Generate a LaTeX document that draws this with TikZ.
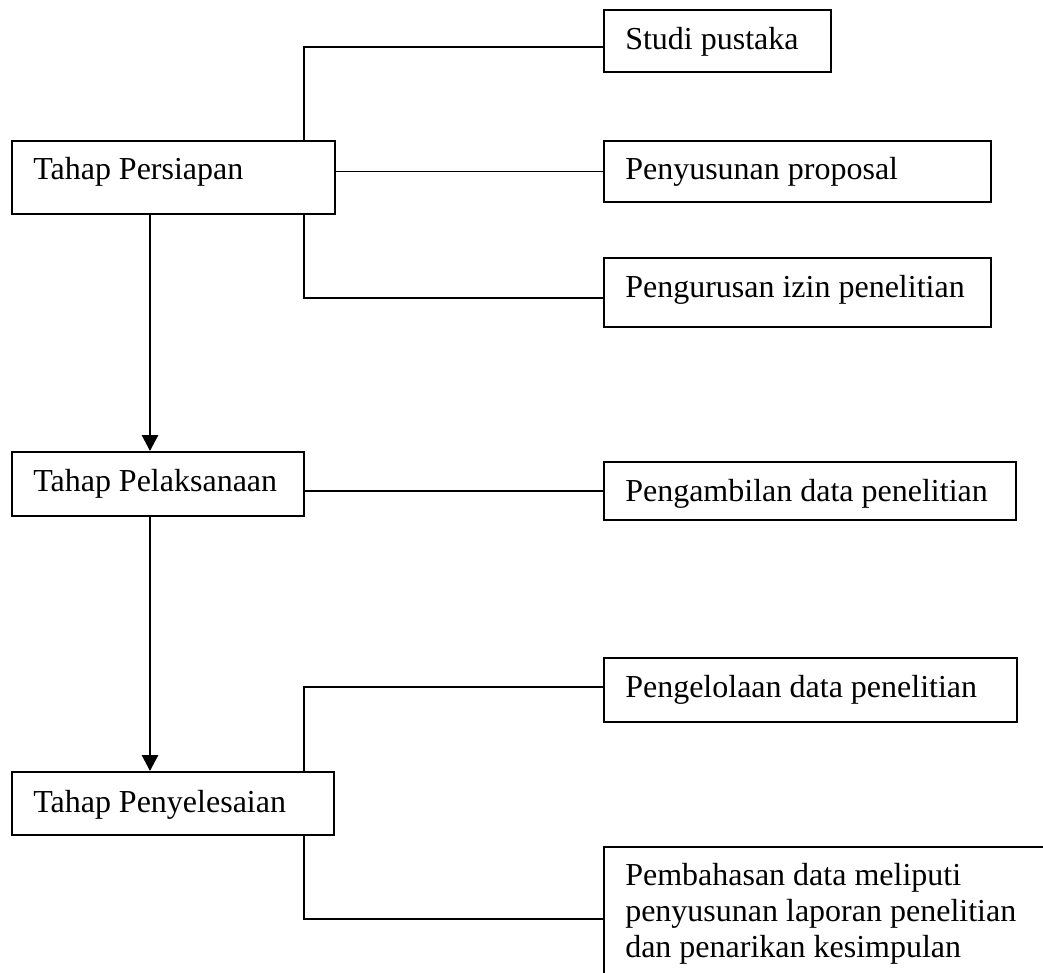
\documentclass[tikz,border=0pt]{standalone}
\usepackage{fontspec}
\setmainfont{Liberation Serif}
\usetikzlibrary{arrows.meta}
\begin{document}
\begin{tikzpicture}[x=0.75pt,y=-0.75pt,
  box/.style={draw, line width=1.4pt, rectangle, inner sep=0pt},
  lbl/.style={anchor=base west, inner sep=0pt, font=\fontsize{24}{27}\selectfont},
  conn/.style={line width=1.4pt},
  flow/.style={line width=2.1pt, -{Triangle[width=12pt,length=12pt]}}]
\useasboundingbox (0,0) rectangle (1043,973);
\clip (0,0) rectangle (1043,973);
% left column boxes
\node[box, minimum width=323*0.75pt, minimum height=73*0.75pt] (persiapan) at (173.5,177.5) {};
\node[box, minimum width=292*0.75pt, minimum height=64*0.75pt] (pelaksanaan) at (158,484) {};
\node[box, minimum width=322*0.75pt, minimum height=63*0.75pt] (penyelesaian) at (173,803.5) {};
% right column boxes
\node[box, minimum width=227*0.75pt, minimum height=62*0.75pt] (studi) at (717.5,41) {};
\node[box, minimum width=387*0.75pt, minimum height=61*0.75pt] (penyusunan) at (797.5,171.5) {};
\node[box, minimum width=387*0.75pt, minimum height=69*0.75pt] (pengurusan) at (797.5,292.5) {};
\node[box, minimum width=412*0.75pt, minimum height=58*0.75pt] (pengambilan) at (810,491) {};
\node[box, minimum width=413*0.75pt, minimum height=64*0.75pt] (pengelolaan) at (810.5,690) {};
\node[box, minimum width=460*0.75pt, minimum height=150*0.75pt] (pembahasan) at (834,922) {};
% labels
\node[lbl] (tPersiapan) at (33,180) {Tahap Persiapan};
\node[lbl] (tPelaksanaan) at (33,492) {Tahap Pelaksanaan};
\node[lbl] (tPenyelesaian) at (33,812) {Tahap Penyelesaian};
\node[lbl] (tStudi) at (625,50) {Studi pustaka};
\node[lbl] (tPenyusunan) at (625,180) {Penyusunan proposal};
\node[lbl] (tPengurusan) at (625,298) {Pengurusan izin penelitian};
\node[lbl] (tPengambilan) at (625,502) {Pengambilan data penelitian};
\node[lbl] (tPengelolaan) at (625,697) {Pengelolaan data penelitian};
\node[lbl] (tPemb1) at (625,885) {Pembahasan data meliputi};
\node[lbl] (tPemb2) at (625,921) {penyusunan laporan penelitian};
\node[lbl] (tPemb3) at (625,957) {dan penarikan kesimpulan};
% helper coordinates
\coordinate (tr) at (304,0);
\coordinate (ar) at (150,0);
% connectors
\draw[conn] (persiapan.north -| tr) |- ([yshift=-4.5pt]studi.west);
\draw[conn] (persiapan.east |- penyusunan.west) -- (penyusunan.west);
\draw[conn] (persiapan.south -| tr) |- ([yshift=-4pt]pengurusan.west);
\draw[conn] (pelaksanaan.east |- pengambilan.west) -- (pengambilan.west);
\draw[conn] (penyelesaian.north -| tr) |- ([yshift=2pt]pengelolaan.west);
\draw[conn] (penyelesaian.south -| tr) |- ([yshift=2.5pt]pembahasan.west);
% flow arrows
\draw[flow] (persiapan.south -| ar) -- (pelaksanaan.north -| ar);
\draw[flow] (pelaksanaan.south -| ar) -- (penyelesaian.north -| ar);
\end{tikzpicture}
\end{document}
